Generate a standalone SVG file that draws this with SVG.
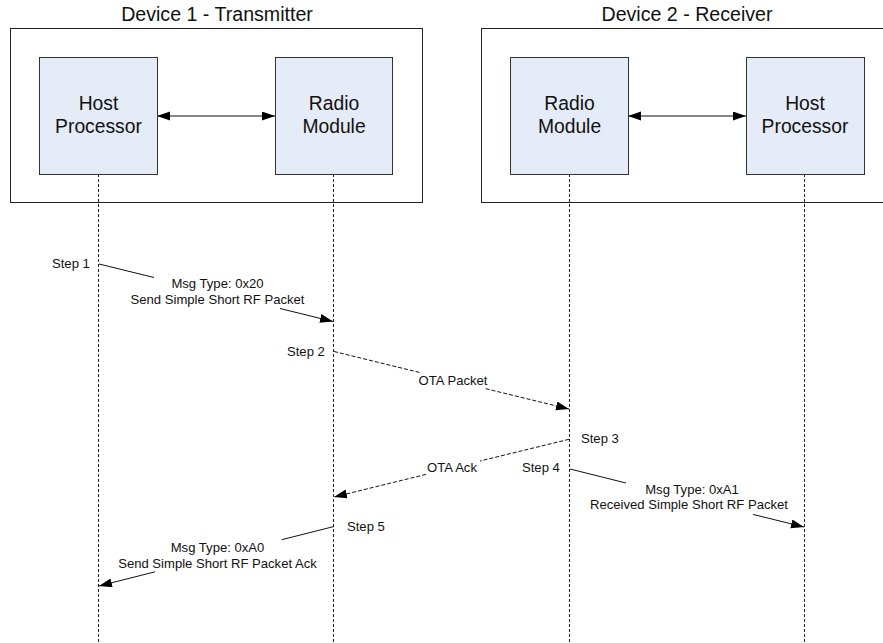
<svg xmlns="http://www.w3.org/2000/svg" width="883" height="643" viewBox="0 0 883 643">
<defs>
<style>
.frame{fill:#fff;stroke:#222;stroke-width:1}
.box{fill:#E6ECF7;stroke:#333;stroke-width:1}
.title{font-family:"Liberation Sans",Arial,sans-serif;font-size:19.6px;fill:#111;text-anchor:middle}
.node{font-family:"Liberation Sans",Arial,sans-serif;font-size:19.3px;fill:#111;text-anchor:middle}
.lbl{font-family:"Liberation Sans",Arial,sans-serif;font-size:13.1px;fill:#111}
.mid{text-anchor:middle}
.life{stroke:#222;stroke-width:1;stroke-dasharray:3,2;fill:none}
.msg{stroke:#111;stroke-width:1;fill:none}
.ota{stroke:#111;stroke-width:1;fill:none;stroke-dasharray:4,2}
</style>
<marker id="ah" markerUnits="userSpaceOnUse" markerWidth="14" markerHeight="10" refX="13" refY="4.5" orient="auto">
<path d="M0,0 L13,4.5 L0,9 z" fill="#000"/>
</marker>
<marker id="ahs" markerUnits="userSpaceOnUse" markerWidth="14" markerHeight="10" refX="13" refY="4.5" orient="auto-start-reverse">
<path d="M0,0 L13,4.5 L0,9 z" fill="#000"/>
</marker>
</defs>
<rect width="883" height="643" fill="#fff"/>
<g id="device1">
<rect class="frame" x="10.5" y="28.5" width="412" height="174"/>
<text class="title" x="217" y="21">Device 1 - Transmitter</text>
</g>
<g id="device2">
<rect class="frame" x="481.5" y="28.5" width="420" height="174"/>
<text class="title" x="687" y="21">Device 2 - Receiver</text>
</g>
<g id="connectors">
<line class="life" x1="98.5" y1="174" x2="98.5" y2="643"/>
<line class="life" x1="333.5" y1="174" x2="333.5" y2="643"/>
<line class="life" x1="569.5" y1="174" x2="569.5" y2="643"/>
<line class="life" x1="804.5" y1="174" x2="804.5" y2="643"/>
<line class="msg" x1="157" y1="116" x2="275" y2="116" marker-start="url(#ahs)" marker-end="url(#ah)"/>
<line class="msg" x1="628" y1="116" x2="746" y2="116" marker-start="url(#ahs)" marker-end="url(#ah)"/>
<line class="msg" x1="99" y1="264" x2="154" y2="277.5"/>
<line class="msg" x1="280" y1="308.5" x2="333" y2="321.5" marker-end="url(#ah)"/>
<line class="ota" x1="334" y1="351.5" x2="421.7" y2="373"/>
<line class="ota" x1="485.7" y1="388.7" x2="569" y2="409" marker-end="url(#ah)"/>
<line class="ota" x1="569" y1="439.3" x2="480" y2="461"/>
<line class="ota" x1="426" y1="474.4" x2="334" y2="497" marker-end="url(#ah)"/>
<line class="msg" x1="570" y1="469" x2="626" y2="483"/>
<line class="msg" x1="753" y1="514.4" x2="804" y2="527" marker-end="url(#ah)"/>
<line class="msg" x1="334" y1="526.5" x2="281.7" y2="539.7"/>
<line class="msg" x1="155" y1="571.8" x2="99" y2="586" marker-end="url(#ah)"/>
</g>
<g id="host1">
<rect class="box" x="39.5" y="57.5" width="118" height="117"/>
<text class="node" x="98.5" y="110">Host</text>
<text class="node" x="98.5" y="133">Processor</text>
</g>
<g id="radio1">
<rect class="box" x="275.5" y="57.5" width="117" height="117"/>
<text class="node" x="334" y="110">Radio</text>
<text class="node" x="334" y="133">Module</text>
</g>
<g id="radio2">
<rect class="box" x="510.5" y="57.5" width="118" height="117"/>
<text class="node" x="569.5" y="110">Radio</text>
<text class="node" x="569.5" y="133">Module</text>
</g>
<g id="host2">
<rect class="box" x="746.5" y="57.5" width="118" height="117"/>
<text class="node" x="805" y="110">Host</text>
<text class="node" x="805" y="133">Processor</text>
</g>
<g id="labels">
<text class="lbl" x="52" y="268">Step 1</text>
<text class="lbl mid" x="217.5" y="288">Msg Type: 0x20</text>
<text class="lbl mid" x="217.5" y="304">Send Simple Short RF Packet</text>
<text class="lbl" x="287" y="356">Step 2</text>
<text class="lbl mid" x="453" y="385">OTA Packet</text>
<text class="lbl" x="581" y="443">Step 3</text>
<text class="lbl" x="427" y="472">OTA Ack</text>
<text class="lbl" x="522" y="472">Step 4</text>
<text class="lbl mid" x="692" y="494">Msg Type: 0xA1</text>
<text class="lbl mid" x="689" y="509">Received Simple Short RF Packet</text>
<text class="lbl" x="347" y="531">Step 5</text>
<text class="lbl mid" x="217.5" y="552">Msg Type: 0xA0</text>
<text class="lbl mid" x="217.5" y="567.5">Send Simple Short RF Packet Ack</text>
</g>
</svg>
